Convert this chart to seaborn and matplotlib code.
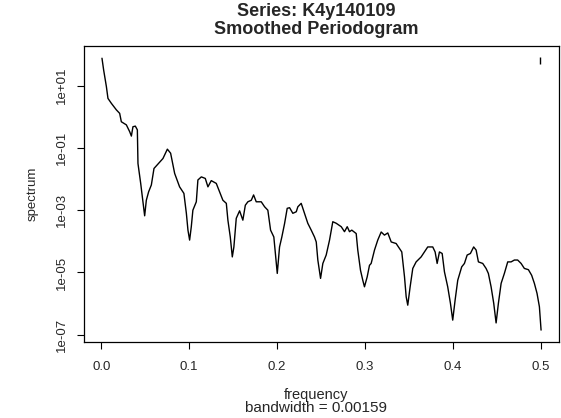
import numpy as np
import pandas as pd
import matplotlib
matplotlib.use("Agg")
import matplotlib.pyplot as plt
import seaborn as sns

frequency = [0.0009, 0.0028, 0.0059, 0.0077, 0.0116, 0.0173, 0.0210, 0.0229, 0.0286, 0.0324,
             0.0343, 0.0361, 0.0388, 0.0411, 0.0418, 0.0449, 0.0475, 0.0494, 0.0513, 0.0539,
             0.0570, 0.0600, 0.0645, 0.0702, 0.0752, 0.0789, 0.0835, 0.0891, 0.0940, 0.0968,
             0.0986, 0.1005, 0.1024, 0.1042, 0.1081, 0.1099, 0.1138, 0.1183, 0.1213, 0.1251,
             0.1308, 0.1346, 0.1383, 0.1422, 0.1440, 0.1467, 0.1490, 0.1508, 0.1535, 0.1573,
             0.1610, 0.1638, 0.1667, 0.1706, 0.1732, 0.1762, 0.1819, 0.1857, 0.1894, 0.1925,
             0.1962, 0.1990, 0.2001, 0.2027, 0.2053, 0.2084, 0.2114, 0.2141, 0.2178, 0.2217,
             0.2235, 0.2273, 0.2311, 0.2348, 0.2387, 0.2424, 0.2444, 0.2462, 0.2493, 0.2519,
             0.2557, 0.2595, 0.2632, 0.2671, 0.2728, 0.2765, 0.2796, 0.2822, 0.2848, 0.2898,
             0.2916, 0.2947, 0.2973, 0.2992, 0.3023, 0.3049, 0.3068, 0.3106, 0.3143, 0.3182,
             0.3219, 0.3257, 0.3296, 0.3352, 0.3390, 0.3416, 0.3447, 0.3466, 0.3484, 0.3511,
             0.3541, 0.3579, 0.3636, 0.3674, 0.3711, 0.3768, 0.3795, 0.3818, 0.3844, 0.3875,
             0.3901, 0.3938, 0.3969, 0.3995, 0.4022, 0.4052, 0.4097, 0.4128, 0.4159, 0.4196,
             0.4233, 0.4261, 0.4287, 0.4336, 0.4374, 0.4400, 0.4431, 0.4461, 0.4488, 0.4514,
             0.4545, 0.4582, 0.4620, 0.4658, 0.4696, 0.4733, 0.4772, 0.4809, 0.4855, 0.4892,
             0.4923, 0.4953, 0.4980, 0.4999]

spectrum_log10 = [1.88, 1.50, 0.97, 0.59, 0.43, 0.22, 0.11, -0.16, -0.26, -0.48,
                  -0.62, -0.32, -0.30, -0.42, -1.50, -2.14, -2.73, -3.18, -2.68, -2.41,
                  -2.19, -1.66, -1.52, -1.34, -1.04, -1.17, -1.82, -2.25, -2.46, -3.10,
                  -3.64, -3.96, -3.53, -3.00, -2.73, -2.03, -1.93, -1.98, -2.25, -2.05,
                  -2.14, -2.41, -2.68, -2.78, -3.32, -3.86, -4.50, -4.18, -3.26, -3.02,
                  -3.32, -2.84, -2.73, -2.68, -2.51, -2.73, -2.73, -2.89, -3.00, -3.64,
                  -3.86, -4.71, -5.03, -4.18, -3.86, -3.43, -2.94, -2.92, -3.10, -3.05,
                  -2.89, -2.78, -3.10, -3.42, -3.64, -3.86, -4.02, -4.60, -5.19, -4.71,
                  -4.44, -3.96, -3.37, -3.42, -3.53, -3.69, -3.53, -3.69, -3.64, -3.75,
                  -4.28, -4.93, -5.25, -5.46, -5.14, -4.77, -4.71, -4.28, -3.96, -3.70,
                  -3.80, -3.73, -4.02, -4.07, -4.23, -4.34, -5.14, -5.78, -6.05, -5.46,
                  -4.87, -4.66, -4.50, -4.34, -4.18, -4.18, -4.34, -4.71, -4.34, -4.39,
                  -4.98, -5.46, -5.99, -6.53, -5.89, -5.25, -4.82, -4.71, -4.44, -4.39,
                  -4.18, -4.28, -4.66, -4.71, -4.87, -5.03, -5.46, -5.99, -6.62, -5.99,
                  -5.35, -5.03, -4.66, -4.66, -4.60, -4.60, -4.71, -4.87, -4.91, -5.09,
                  -5.35, -5.67, -6.10, -6.85]

bandwidth = 0.00159
ci_log10 = [1.69, 1.91]

x_ticks = [0.0, 0.1, 0.2, 0.3, 0.4, 0.5]
x_tick_labels = ["0.0", "0.1", "0.2", "0.3", "0.4", "0.5"]
y_ticks_log10 = [1, -1, -3, -5, -7]
y_tick_labels = ["1e+01", "1e-01", "1e-03", "1e-05", "1e-07"]

title_lines = ["Series: K4y140109", "Smoothed Periodogram"]
xlabel_text = "frequency"
sub_text = "bandwidth = 0.00159"
ylabel_text = "spectrum"

sns.set_style("ticks")
plt.rcParams['font.family'] = ['Liberation Sans', 'DejaVu Sans']

df = pd.DataFrame({"frequency": frequency,
                   "spectrum": np.power(10.0, spectrum_log10)})

fig = plt.figure(figsize=(5.61, 4.18), dpi=100)
ax = fig.add_axes([0.149, 0.182, 0.847, 0.707])

sns.lineplot(data=df, x="frequency", y="spectrum", ax=ax, color="black",
             linewidth=1.0, estimator=None, sort=False)

ax.set_yscale("log")
conf_x = max(frequency) - bandwidth
ax.plot([conf_x, conf_x], np.power(10.0, ci_log10), color="black",
        linewidth=1.0, solid_capstyle="butt")

ax.set_xlim(-0.02, 0.52)
ax.set_ylim(10 ** -7.23, 10 ** 2.26)

ax.set_xticks(x_ticks)
ax.set_xticklabels(x_tick_labels, fontsize=9.5)
ax.set_yticks(np.power(10.0, y_ticks_log10))
ax.set_yticklabels(y_tick_labels, fontsize=9.5, rotation=90, va="center")
ax.minorticks_off()
ax.tick_params(axis="both", direction="out", length=5, width=0.8, color="black")
ax.tick_params(axis="x", pad=9)
ax.tick_params(axis="y", pad=6)

for s in ax.spines.values():
    s.set_color("black")
    s.set_linewidth(0.9)

ax.set_xlabel("")
ax.set_ylabel(ylabel_text, fontsize=9.5, labelpad=13)
cx = 0.5635
fig.text(cx, 1 - 395 / 418, xlabel_text, ha="center", va="center", fontsize=10.5)
fig.text(cx, 1 - 408 / 418, sub_text, ha="center", va="center", fontsize=11)
fig.text(cx, 1 - 12 / 418, title_lines[0], ha="center", va="center",
         fontsize=13, fontweight="bold")
fig.text(cx, 1 - 30 / 418, title_lines[1], ha="center", va="center",
         fontsize=13, fontweight="bold")

fig.savefig("out.png", dpi=100)
